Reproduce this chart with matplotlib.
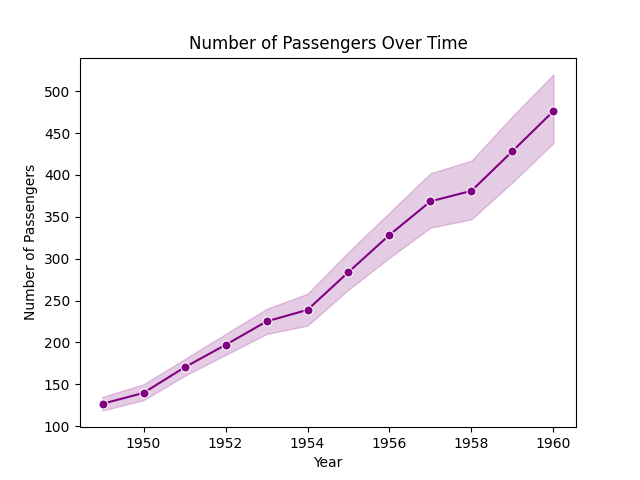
import matplotlib
matplotlib.use('Agg')
import matplotlib.pyplot as plt

# Yearly mean passengers and the 95% CI band
years = [1949, 1950, 1951, 1952, 1953, 1954, 1955, 1956, 1957, 1958, 1959, 1960]
passengers = [126.7, 139.7, 170.2, 197.0, 225.0, 238.9, 284.0, 328.3, 368.4, 381.0, 428.3, 476.2]
ci_low = [118.8, 131, 160, 185, 210, 220, 263, 301, 337, 347, 391, 438]
ci_high = [135, 150, 180, 210, 240, 258, 308, 355, 402, 417, 470, 520]

fig, ax = plt.subplots(figsize=(6.4, 4.8), dpi=100)

ax.fill_between(years, ci_low, ci_high, color='purple', alpha=0.2)
ax.plot(years, passengers, color='purple', marker='o',
        markeredgecolor='white', markeredgewidth=0.75, markersize=6.5, linewidth=1.5)

ax.set_xticks([1950, 1952, 1954, 1956, 1958, 1960])
ax.set_title('Number of Passengers Over Time')
ax.set_xlabel('Year')
ax.set_ylabel('Number of Passengers')

fig.savefig('out.png')
